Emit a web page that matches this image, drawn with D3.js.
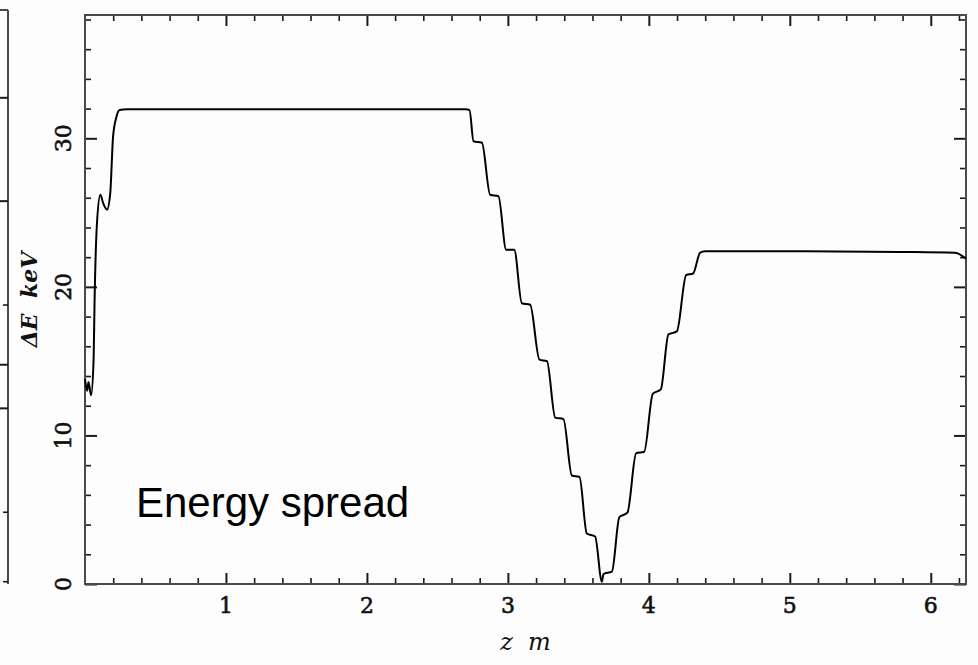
<!DOCTYPE html>
<html>
<head>
<meta charset="utf-8">
<script src="https://cdn.jsdelivr.net/npm/d3@7"></script>
<style>
  body { margin: 0; background: #fdfdfd; }
  svg { display: block; }
</style>
</head>
<body>
<svg id="chart"></svg>
<script>
// energy spread along the line
const zValues = [0, 0.015, 0.025, 0.043, 0.061, 0.068, 0.085, 0.109, 0.13, 0.156, 0.179, 0.199, 0.222, 0.245, 0.3,
  1.0, 2.0, 2.7, 2.728, 2.756, 2.816, 2.874, 2.933, 2.988, 3.045, 3.099, 3.158, 3.224, 3.277, 3.336, 3.394,
  3.454, 3.508, 3.56, 3.619, 3.667, 3.678, 3.738, 3.791, 3.848, 3.91, 3.967, 4.028, 4.085, 4.139, 4.199,
  4.265, 4.314, 4.364, 4.4, 5.0, 5.78, 6.17, 6.25];
const dEValues = [13.8, 13.0, 13.6, 12.7, 15.1, 19.1, 24.3, 26.2, 25.6, 25.2, 26.3, 30.1, 31.4, 31.9, 31.95,
  31.95, 31.95, 31.95, 31.9, 29.8, 29.7, 26.2, 26.1, 22.5, 22.5, 18.9, 18.8, 15.1, 15.0, 11.2, 11.1,
  7.3, 7.2, 3.4, 3.2, 0.15, 0.67, 0.83, 4.5, 4.8, 8.8, 8.9, 12.8, 13.1, 16.8, 17.0,
  20.8, 20.9, 22.3, 22.4, 22.4, 22.35, 22.3, 21.9];

const xTickLabels = [1, 2, 3, 4, 5, 6];
const yTickLabels = [0, 10, 20, 30];
const xTitle = "z  m";
const yTitle = "\u0394E  keV";
const noteText = "Energy spread";

// right edge of the neighbouring (cut off) panel
const sidePanelMajor = [0.847, 0.667, 0.382, 0.306];
const sidePanelMinor = [0.486, 0.125, 0.004];

const width = 978, height = 665;
const frame = {left: 85, right: 966, top: 15, bottom: 584};

const svg = d3.select("#chart")
  .attr("width", width)
  .attr("height", height)
  .style("background", "#fdfdfd");

const x = d3.scaleLinear().domain([0, 6.25]).range([frame.left, frame.right]);
const y = d3.scaleLinear().domain([0, 38.3]).range([frame.bottom, frame.top]);
const side = d3.scaleLinear().domain([0, 1]).range([584, 10]);

const xMinor = d3.range(0.2, 6.25, 0.2).filter(d => Math.abs(d - Math.round(d)) > 0.01);
const yMinor = d3.range(2, 38.3, 2).filter(d => d % 10 !== 0);
const xMajor = xTickLabels;
const yMajor = yTickLabels;

const tickColor = "#1a1a1a";

function styleAxis(g, w) {
  g.select(".domain").remove();
  g.selectAll(".tick line").attr("stroke", tickColor).attr("stroke-width", w);
}

// ticks point inward on all four sides
svg.append("g").attr("transform", `translate(0,${frame.bottom})`)
  .call(d3.axisBottom(x).tickValues(xMinor).tickSizeInner(-6).tickSizeOuter(0).tickFormat(""))
  .call(g => styleAxis(g, 1.6));
svg.append("g").attr("transform", `translate(0,${frame.bottom})`)
  .call(d3.axisBottom(x).tickValues(xMajor).tickSizeInner(-11).tickSizeOuter(0).tickFormat(""))
  .call(g => styleAxis(g, 2));
svg.append("g").attr("transform", `translate(0,${frame.top})`)
  .call(d3.axisTop(x).tickValues(xMinor).tickSizeInner(-6).tickSizeOuter(0).tickFormat(""))
  .call(g => styleAxis(g, 1.6));
svg.append("g").attr("transform", `translate(0,${frame.top})`)
  .call(d3.axisTop(x).tickValues(xMajor).tickSizeInner(-11).tickSizeOuter(0).tickFormat(""))
  .call(g => styleAxis(g, 2));

svg.append("g").attr("transform", `translate(${frame.left},0)`)
  .call(d3.axisLeft(y).tickValues(yMinor).tickSizeInner(-6).tickSizeOuter(0).tickFormat(""))
  .call(g => styleAxis(g, 1.6));
svg.append("g").attr("transform", `translate(${frame.left},0)`)
  .call(d3.axisLeft(y).tickValues(yMajor).tickSizeInner(-12).tickSizeOuter(0).tickFormat(""))
  .call(g => styleAxis(g, 2));
svg.append("g").attr("transform", `translate(${frame.right},0)`)
  .call(d3.axisRight(y).tickValues(yMinor).tickSizeInner(-6).tickSizeOuter(0).tickFormat(""))
  .call(g => styleAxis(g, 1.6));
svg.append("g").attr("transform", `translate(${frame.right},0)`)
  .call(d3.axisRight(y).tickValues(yMajor).tickSizeInner(-12).tickSizeOuter(0).tickFormat(""))
  .call(g => styleAxis(g, 2));

// frame
svg.append("rect")
  .attr("x", frame.left).attr("y", frame.top)
  .attr("width", frame.right - frame.left)
  .attr("height", frame.bottom - frame.top)
  .attr("fill", "none")
  .attr("stroke", "#4a4a4a")
  .attr("stroke-width", 2);

// tick labels (plotter-style digits, a bit heavy)
svg.append("g").selectAll("text")
  .data(xTickLabels)
  .join("text")
  .attr("x", d => x(d))
  .attr("y", 613)
  .attr("text-anchor", "middle")
  .attr("font-family", "DejaVu Serif")
  .attr("font-size", 22)
  .attr("fill", "#111")
  .attr("stroke", "#111")
  .attr("stroke-width", 0.6)
  .text(d => d);

svg.append("g").selectAll("text")
  .data(yTickLabels)
  .join("text")
  .attr("transform", d => `translate(71,${y(d)}) rotate(-90)`)
  .attr("text-anchor", "middle")
  .attr("font-family", "DejaVu Serif")
  .attr("font-size", 22)
  .attr("fill", "#111")
  .attr("stroke", "#111")
  .attr("stroke-width", 0.6)
  .text(d => d);

// axis titles
svg.append("text")
  .attr("x", (frame.left + frame.right) / 2)
  .attr("y", 650)
  .attr("text-anchor", "middle")
  .attr("font-family", "DejaVu Serif")
  .attr("font-style", "italic")
  .attr("font-size", 24)
  .attr("fill", "#111")
  .attr("xml:space", "preserve")
  .text(xTitle);

svg.append("text")
  .attr("transform", `translate(37,${(frame.top + frame.bottom) / 2}) rotate(-90)`)
  .attr("text-anchor", "middle")
  .attr("font-family", "DejaVu Serif")
  .attr("font-style", "italic")
  .attr("font-weight", "bold")
  .attr("font-size", 22)
  .attr("fill", "#111")
  .attr("xml:space", "preserve")
  .text(yTitle);

// the curve
const data = zValues.map((z, i) => ({z: z, v: dEValues[i]}));
const line = d3.line()
  .x(d => x(d.z))
  .y(d => y(d.v))
  .curve(d3.curveMonotoneX);

svg.append("path")
  .datum(data)
  .attr("d", line)
  .attr("fill", "none")
  .attr("stroke", "#000")
  .attr("stroke-width", 2);

// annotation
svg.append("text")
  .attr("x", 136)
  .attr("y", 517)
  .attr("font-family", "Liberation Sans, Arial, sans-serif")
  .attr("font-size", 42)
  .attr("fill", "#000")
  .text(noteText);

// edge of the neighbouring panel on the far left
const sideG = svg.append("g");
sideG.append("line")
  .attr("x1", 8).attr("x2", 8)
  .attr("y1", side(1)).attr("y2", side(0))
  .attr("stroke", "#4a4a4a").attr("stroke-width", 2);
sideG.append("line")
  .attr("x1", 0).attr("x2", 8)
  .attr("y1", side(1)).attr("y2", side(1))
  .attr("stroke", "#4a4a4a").attr("stroke-width", 2);
sideG.selectAll(".maj")
  .data(sidePanelMajor)
  .join("line")
  .attr("x1", 0).attr("x2", 8)
  .attr("y1", d => side(d)).attr("y2", d => side(d))
  .attr("stroke", tickColor).attr("stroke-width", 2);
sideG.selectAll(".min")
  .data(sidePanelMinor)
  .join("line")
  .attr("x1", 3).attr("x2", 8)
  .attr("y1", d => side(d)).attr("y2", d => side(d))
  .attr("stroke", tickColor).attr("stroke-width", 1.6);
</script>
</body>
</html>
